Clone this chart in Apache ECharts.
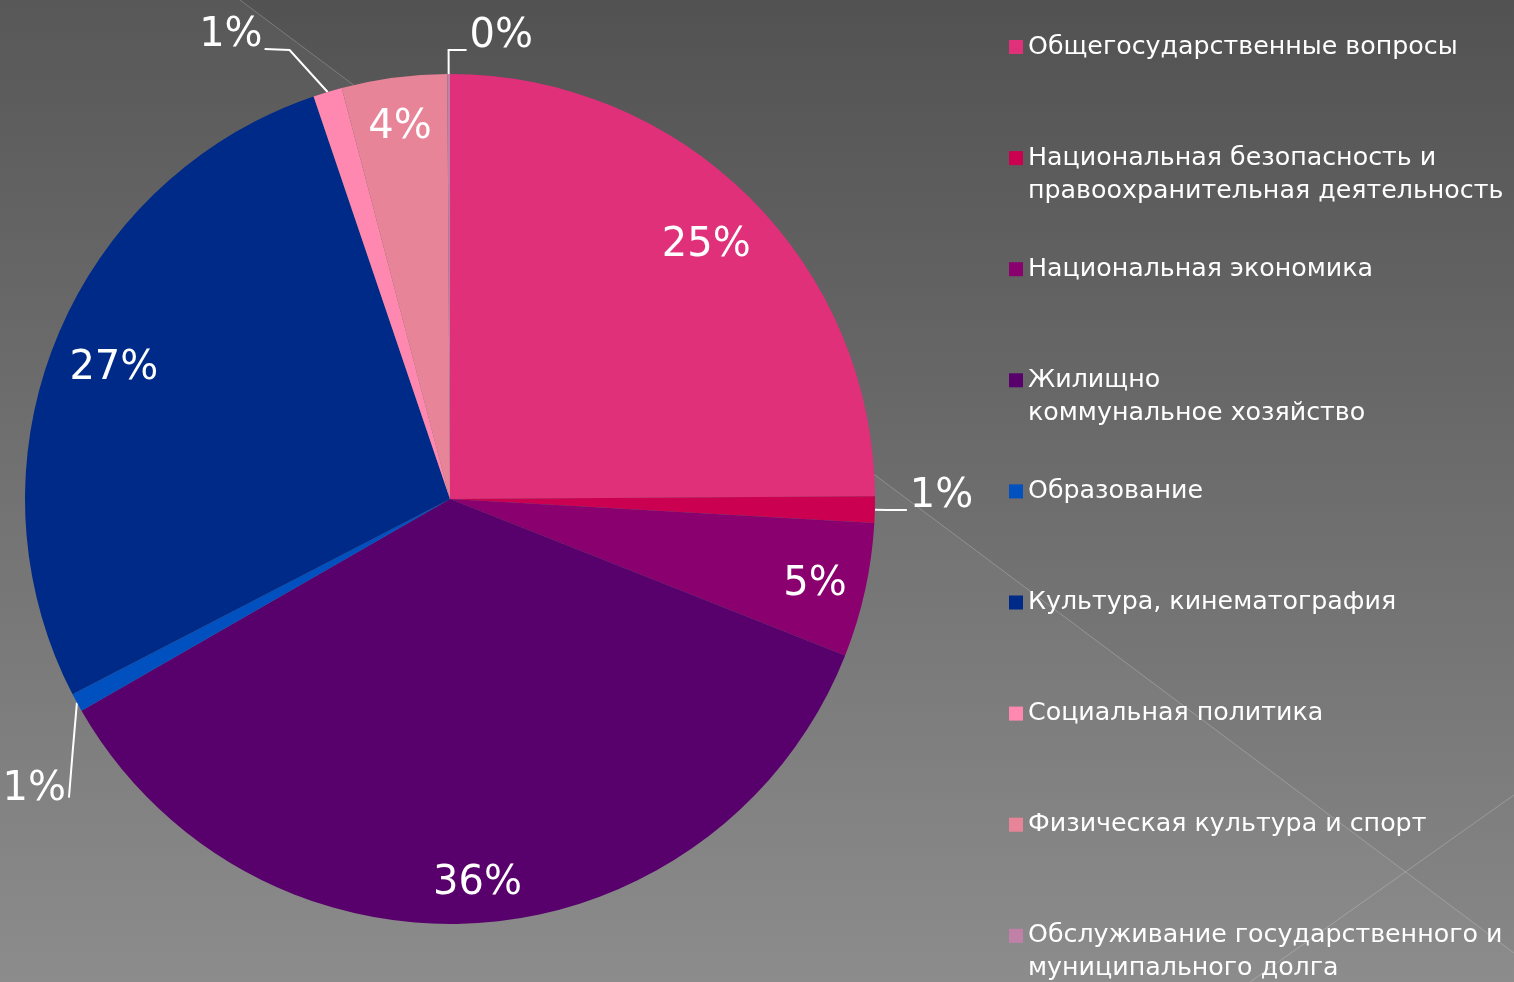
<!DOCTYPE html>
<html>
<head>
<meta charset="utf-8">
<script src="https://cdn.jsdelivr.net/npm/echarts@6/dist/echarts.min.js"></script>
<style>
  html, body { margin: 0; padding: 0; }
  #chart { width: 1514px; height: 982px; }
</style>
</head>
<body>
<div id="chart"></div>
<script>
const categories = [
  'Общегосударственные вопросы',
  'Национальная безопасность и\nправоохранительная деятельность',
  'Национальная экономика',
  'Жилищно\nкоммунальное хозяйство',
  'Образование',
  'Культура, кинематография',
  'Социальная политика',
  'Физическая культура и спорт',
  'Обслуживание государственного и\nмуниципального долга'
];
const values = [24.9, 1.0, 5.1, 35.7, 0.7, 27.4, 1.1, 4.0, 0.1];
const colors = ['#E0307A', '#CC0050', '#8A006E', '#58006C', '#0050C0', '#002A88', '#FF88B0', '#E88498', '#C080A8'];

const FONT = 'DejaVu Sans';
const CENTER = [450, 499];
const RADIUS = 425;
const chart = echarts.init(document.getElementById('chart'), null, { renderer: 'canvas' });

const pct = p => Math.round(p.percent) + '%';
const small = v => v < 3;
const leaderLen = [12, 12, 12, 12, 40, 12, 45, 12, 24];
const leaderLen2 = [20, 20, 20, 20, 20, 20, 30, 20, 18];

const legends = categories.map((name, i) => {
  const twoLine = name.indexOf('\n') >= 0;
  const iconY = 47 + i * 111.1;
  return {
    left: 1009,
    top: iconY - (twoLine ? 49.5 : 16.5),
    orient: 'vertical',
    icon: 'rect',
    itemWidth: 14,
    itemHeight: 14,
    selectedMode: false,
    padding: 0,
    data: [name],
    formatter: n => (n.indexOf('\n') >= 0 ? '\n' + n : n),
    textStyle: { color: '#ffffff', fontFamily: FONT, fontSize: 25.3, lineHeight: 33 }
  };
});

const option = {
  animation: false,
  backgroundColor: {
    type: 'linear', x: 0, y: 0, x2: 0, y2: 1,
    colorStops: [{ offset: 0, color: '#525252' }, { offset: 1, color: '#888888' }]
  },
  graphic: [
    { type: 'polygon', z: -10, silent: true,
      shape: { points: [[240, 0], [1514, 953], [1514, 982], [0, 982], [0, 0]] },
      style: { fill: 'rgba(255,255,255,0.035)' } },
    { type: 'line', z: -9, silent: true, shape: { x1: 240, y1: 0, x2: 1514, y2: 953 },
      style: { stroke: 'rgba(255,255,255,0.22)', lineWidth: 1 } },
    { type: 'line', z: -9, silent: true, shape: { x1: 1514, y1: 795, x2: 1250, y2: 982 },
      style: { stroke: 'rgba(255,255,255,0.22)', lineWidth: 1 } }
  ],
  legend: legends,
  series: [
    {
      type: 'pie',
      center: CENTER,
      radius: RADIUS,
      startAngle: 90,
      clockwise: true,
      avoidLabelOverlap: false,
      legendHoverLink: false,
      emphasis: { disabled: true },
      itemStyle: { borderWidth: 0 },
      label: {
        position: 'outside', formatter: pct, color: '#ffffff',
        fontFamily: FONT, fontSize: 40
      },
      labelLine: { length: 12, length2: 20, lineStyle: { color: '#ffffff', width: 2 } },
      data: categories.map((n, i) => ({
        name: n, value: values[i],
        itemStyle: { color: colors[i] },
        label: { show: small(values[i]) },
        labelLine: { show: small(values[i]), length: leaderLen[i], length2: leaderLen2[i] }
      })),
      labelLayout: function (p) {
        const pts = p.labelLinePoints;
        if (!pts) return {};
        const a = pts[0], b = pts[1], c = pts[2];
        if (p.dataIndex === 4) {
          const m = [a[0] - 4, a[1] + 46];
          const e = [a[0] - 8, a[1] + 95];
          return { x: e[0] - 3, y: e[1] - 8, align: 'right', verticalAlign: 'middle',
                   labelLinePoints: [a, m, e] };
        }
        if (p.dataIndex === 6) {
          const m = [a[0] - 38, a[1] - 42];
          const e = [m[0] - 25, m[1] - 1];
          return { x: e[0] - 2, y: e[1] - 13, align: 'right', verticalAlign: 'middle',
                   labelLinePoints: [a, m, e] };
        }
        let e = c;
        let right = c[0] > b[0];
        if (p.dataIndex === 8) {
          e = [b[0] + Math.abs(b[0] - c[0]), c[1]];
          right = true;
        }
        return {
          x: e[0] + (right ? 3 : -3),
          y: e[1] - 13,
          align: right ? 'left' : 'right',
          verticalAlign: 'middle',
          labelLinePoints: [a, b, e]
        };
      }
    },
    {
      type: 'pie',
      center: CENTER,
      radius: [341, 391],
      startAngle: 90,
      clockwise: true,
      silent: true,
      legendHoverLink: false,
      emphasis: { disabled: true },
      itemStyle: { color: 'rgba(0,0,0,0)' },
      label: { position: 'inside', formatter: pct, color: '#ffffff', fontFamily: FONT, fontSize: 40 },
      labelLine: { show: false },
      data: categories.map((n, i) => ({
        name: n, value: values[i],
        label: { show: !small(values[i]) }
      })),
      labelLayout: function (p) {
        const r = p.labelRect;
        const cx = r.x + r.width / 2, cy = r.y + r.height / 2;
        const dx = cx - CENTER[0], dy = cy - CENTER[1];
        const d = Math.hypot(dx, dy) || 1;
        const ux = dx / d, uy = dy / d;
        const extent = 0.8 * Math.abs(ux) * r.width / 2 + Math.abs(uy) * r.height / 2;
        const target = RADIUS * 0.948 - extent;
        return {
          x: CENTER[0] + ux * target,
          y: CENTER[1] + uy * target + 5,
          align: 'center',
          verticalAlign: 'middle'
        };
      }
    }
  ]
};
chart.setOption(option);
</script>
</body>
</html>
